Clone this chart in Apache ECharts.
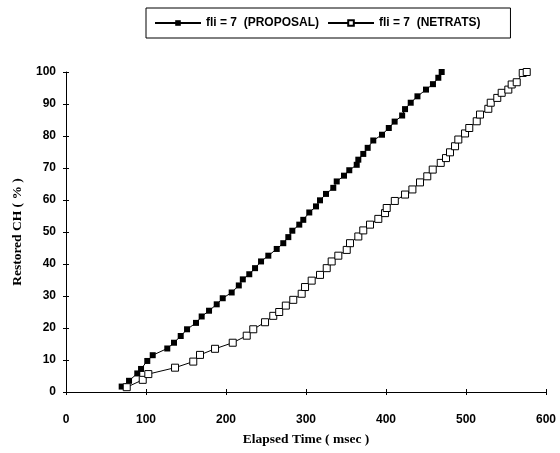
<!DOCTYPE html>
<html>
<head>
<meta charset="utf-8">
<script src="https://cdn.jsdelivr.net/npm/echarts@6/dist/echarts.min.js"></script>
<style>
html,body{margin:0;padding:0;background:#fff;}
#chart{width:560px;height:453px;}
</style>
</head>
<body>
<div id="chart"></div>
<script>
// Data
var seriesNames = ['fli = 7  (PROPOSAL)', 'fli = 7  (NETRATS)'];

var proposalTime = [69.6, 78.8, 89.1, 93.8, 101.6, 108.4, 126.6, 135, 143.4, 151.3, 162.5, 169.6, 178.8, 188.4, 195.9, 207.1, 216, 221, 229.1, 236.3, 243.8, 252.9, 263.4, 271.6, 277.9, 282.9, 291.6, 296.6, 304.1, 312.5, 317.5, 325, 334.1, 338.4, 347.5, 354.1, 363.4, 365.4, 371.6, 377.1, 384.1, 395, 403.5, 410.8, 420.2, 423.8, 430.9, 439.3, 450, 458.7, 465.4, 469.6];
var proposalPct  = [1.7, 3.5, 5.8, 7.2, 9.7, 11.5, 13.6, 15.4, 17.5, 19.6, 21.6, 23.6, 25.4, 27.4, 29.3, 31.1, 33.3, 35.2, 36.8, 38.7, 40.8, 42.6, 44.7, 46.5, 48.4, 50.4, 52.3, 53.8, 56.1, 58.0, 59.9, 61.9, 63.8, 65.8, 67.6, 69.3, 71.0, 72.6, 74.4, 76.3, 78.6, 80.4, 82.5, 84.5, 86.4, 88.4, 90.4, 92.4, 94.5, 96.2, 98.2, 100];

var netratsTime = [75.9, 95.9, 102.9, 136.3, 159.1, 167.5, 186.3, 208.4, 225.9, 234.1, 248.8, 259.1, 266.5, 274.8, 284.1, 294.6, 298.8, 307.1, 317.5, 325.9, 332.1, 340.4, 350.9, 355, 365.4, 371.6, 380, 390.4, 398.8, 400.9, 411, 423.8, 433, 442.5, 451.6, 458.4, 468.4, 475, 480, 486.3, 490.4, 498.8, 504.1, 513.4, 517.5, 527.9, 530.9, 539.1, 544.6, 552.9, 557.1, 563.4, 570.9, 575.9];
var netratsPct  = [1.5, 3.8, 5.6, 7.6, 9.5, 11.6, 13.5, 15.4, 17.6, 19.6, 21.8, 23.8, 25.0, 27.0, 28.8, 30.7, 32.8, 34.8, 36.6, 38.7, 40.8, 42.6, 44.4, 46.5, 48.6, 50.5, 52.3, 54.1, 55.9, 57.5, 59.7, 61.7, 63.3, 65.5, 67.4, 69.5, 71.6, 73.1, 74.9, 76.8, 78.9, 80.8, 82.5, 84.6, 86.7, 88.5, 90.4, 91.9, 93.5, 94.5, 96.1, 96.8, 99.7, 100];

var xTicks = [0, 100, 200, 300, 400, 500, 600];
var yTicks = [0, 10, 20, 30, 40, 50, 60, 70, 80, 90, 100];

function pairs(xs, ys) {
  var out = [];
  for (var i = 0; i < xs.length; i++) out.push([xs[i], ys[i]]);
  return out;
}

var chart = echarts.init(document.getElementById('chart'), null, {renderer: 'canvas'});
var sans = 'Liberation Sans, Arial, sans-serif';
var serif = 'Liberation Serif, Times New Roman, serif';
var tickFont = {color: '#000', fontFamily: sans, fontSize: 12, fontWeight: 'bold'};
var titleFont = {color: '#000', fontFamily: serif, fontSize: 13.5, fontWeight: 'bold'};
var xMin = xTicks[0], xMax = xTicks[xTicks.length - 1];
var yMin = yTicks[0], yMax = yTicks[yTicks.length - 1];

var option = {
  backgroundColor: '#fff',
  animation: false,
  legend: {
    left: 146, top: 8,
    orient: 'horizontal',
    borderColor: '#000', borderWidth: 1,
    padding: [9, 30, 9, 8],
    itemGap: 8,
    itemWidth: 46, itemHeight: 7,
    textStyle: {color: '#000', fontFamily: sans, fontSize: 12, fontWeight: 'bold'},
    data: seriesNames
  },
  grid: {left: 66, right: 14, top: 72, bottom: 61},
  xAxis: [
    {
      type: 'value', min: xMin, max: xMax, interval: 100,
      name: 'Elapsed Time ( msec )', nameLocation: 'middle', nameGap: 41,
      nameTextStyle: titleFont,
      axisLine: {lineStyle: {color: '#000', width: 1}},
      axisTick: {show: true, length: 3, lineStyle: {color: '#000'}},
      axisLabel: Object.assign({margin: 22}, tickFont),
      splitLine: {show: false}
    },
    {
      type: 'value', min: xMin, max: xMax, interval: 100, position: 'bottom',
      axisLine: {show: false},
      axisTick: {show: true, inside: true, length: 3, lineStyle: {color: '#000'}},
      axisLabel: {show: false},
      splitLine: {show: false}
    }
  ],
  yAxis: [
    {
      type: 'value', min: yMin, max: yMax, interval: 10,
      name: 'Restored CH ( % )', nameLocation: 'middle', nameGap: 41, nameRotate: 90,
      nameTextStyle: titleFont,
      axisLine: {show: true, lineStyle: {color: '#000', width: 1}},
      axisTick: {show: true, length: 3, lineStyle: {color: '#000'}},
      axisLabel: Object.assign({margin: 10}, tickFont),
      splitLine: {show: false}
    },
    {
      type: 'value', min: yMin, max: yMax, interval: 10, position: 'left', offset: 0,
      axisLine: {show: false},
      axisTick: {show: true, inside: true, length: 3, lineStyle: {color: '#000'}},
      axisLabel: {show: false},
      splitLine: {show: false}
    }
  ],
  series: [
    {
      name: seriesNames[0], type: 'line',
      data: pairs(proposalTime, proposalPct),
      symbol: 'rect', symbolSize: 6,
      lineStyle: {color: '#000', width: 1},
      itemStyle: {color: '#000', borderColor: '#000', borderWidth: 0}
    },
    {
      name: seriesNames[1], type: 'line',
      data: pairs(netratsTime, netratsPct),
      symbol: 'rect', symbolSize: 7,
      lineStyle: {color: '#000', width: 1},
      itemStyle: {color: '#fff', borderColor: '#000', borderWidth: 1}
    }
  ]
};
chart.setOption(option);
</script>
</body>
</html>
